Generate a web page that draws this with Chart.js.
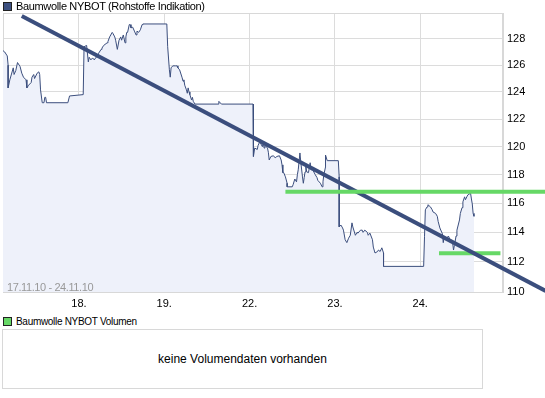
<!DOCTYPE html>
<html>
<head>
<meta charset="utf-8">
<script src="https://cdn.jsdelivr.net/npm/chart.js@4"></script>
<style>
  body { margin: 0; background: #fff; font-family: Arial, "Liberation Sans", sans-serif; }
  #wrap { position: relative; width: 545px; height: 398px; overflow: hidden; }
  #main { position: absolute; left: 0; top: 0; }
  .legend { position: absolute; left: 3px; font-size: 11px; line-height: 13px; color: #000; white-space: nowrap; }
  .legend i { display: inline-block; width: 7px; height: 7px; border: 1px solid #222; margin-right: 4px; vertical-align: -1px; }
  #range { position: absolute; left: 7px; top: 281px; font-size: 11px; color: #999; letter-spacing: -0.4px; }
  #volbox { position: absolute; left: 2px; top: 329px; width: 479px; height: 58px; border: 1px solid #d8d8d8;
            display: flex; align-items: center; justify-content: center; font-size: 12px; color: #000; }
</style>
</head>
<body>
<div id="wrap">
  <canvas id="main" width="545" height="312"></canvas>
  <div class="legend" style="top:0px; letter-spacing:-0.35px"><i style="background:#3d5080"></i>Baumwolle NYBOT (Rohstoffe Indikation)</div>
  <div id="range">17.11.10 - 24.11.10</div>
  <div class="legend" style="top:315px; font-size:10px; letter-spacing:-0.3px"><i style="background:#66d866"></i>Baumwolle NYBOT Volumen</div>
  <div id="volbox">keine Volumendaten vorhanden</div>
</div>
<script>
// x = trading days since start of 17.11. (1 = 18., 2 = 19., 3 = 22., 4 = 23., 5 = 24.)
const dayTicks = [1, 2, 3, 4, 5];
const dayLabels = ["18.", "19.", "22.", "23.", "24."];
const priceTicks = [110, 112, 114, 116, 118, 120, 122, 124, 126, 128];

const priceX = [
  0.11, 0.13, 0.16, 0.17, 0.17, 0.19, 0.23, 0.24, 0.26, 0.28, 0.31, 0.33, 0.35, 0.38, 0.39, 0.41, 0.44, 0.45, 0.47, 0.48,
  0.51, 0.53, 0.54, 0.55, 0.57, 0.59, 0.60, 0.61, 0.62, 0.87, 0.89, 1.05, 1.06, 1.09, 1.11, 1.12, 1.14, 1.16, 1.18, 1.20,
  1.22, 1.23, 1.26, 1.27, 1.29, 1.33, 1.34, 1.36, 1.39, 1.40, 1.42, 1.43, 1.45, 1.47, 1.49, 1.50, 1.52, 1.54, 1.55, 1.56,
  1.57, 1.59, 1.60, 1.61, 1.63, 1.65, 1.67, 1.68, 1.70, 1.72, 1.74, 1.75, 2.03, 2.04, 2.06, 2.07, 2.08, 2.10, 2.13, 2.15,
  2.16, 2.18, 2.21, 2.22, 2.23, 2.24, 2.26, 2.27, 2.28, 2.29, 2.30, 2.32, 2.33, 2.34, 2.36, 2.63, 2.64, 2.67, 3.04, 3.04,
  3.05, 3.06, 3.09, 3.10, 3.12, 3.15, 3.16, 3.17, 3.18, 3.21, 3.22, 3.23, 3.25, 3.28, 3.30, 3.32, 3.35, 3.37, 3.38, 3.39,
  3.40, 3.42, 3.44, 3.44, 3.50, 3.51, 3.53, 3.55, 3.56, 3.57, 3.59, 3.60, 3.62, 3.63, 3.64, 3.65, 3.66, 3.67, 3.69, 3.71,
  3.72, 3.73, 3.74, 3.77, 3.79, 3.80, 3.83, 3.85, 3.86, 3.87, 3.89, 3.89, 3.91, 4.04, 4.05, 4.05, 4.07, 4.09, 4.10, 4.12,
  4.14, 4.16, 4.18, 4.20, 4.21, 4.24, 4.26, 4.27, 4.30, 4.32, 4.33, 4.35, 4.38, 4.39, 4.41, 4.44, 4.45, 4.47, 4.50, 4.51,
  4.53, 4.55, 4.57, 4.57, 5.04, 5.05, 5.06, 5.08, 5.09, 5.12, 5.14, 5.15, 5.18, 5.20, 5.21, 5.23, 5.26, 5.27, 5.28, 5.31,
  5.33, 5.35, 5.38, 5.39, 5.40, 5.42, 5.43, 5.46, 5.47, 5.49, 5.50, 5.52, 5.53, 5.55, 5.56, 5.59, 5.60, 5.61, 5.62, 5.63
];
const priceY = [
  127.1, 127.0, 126.7, 126.0, 124.3, 124.9, 125.8, 125.3, 125.6, 126.2, 125.9, 125.4, 125.1, 124.9, 124.3, 124.5, 124.7, 125.1, 125.3, 125.0,
  125.4, 125.5, 125.3, 124.15, 123.2, 123.2, 123.6, 123.6, 123.2, 123.2, 123.7, 123.8, 127.4, 127.5, 126.25, 126.6, 126.4, 126.55, 126.4, 126.6,
  126.7, 126.9, 127.2, 127.3, 127.5, 127.7, 127.8, 128.15, 128.5, 128.4, 128.15, 127.9, 127.2, 127.9, 128.15, 127.9, 128.3, 127.7, 128.15, 128.5,
  128.5, 129.1, 129.1, 128.85, 128.9, 128.6, 128.3, 128.6, 128.5, 128.7, 129.1, 129.15, 129.15, 127.4, 125.65, 125.1, 125.8, 125.95, 125.95, 125.95,
  125.8, 125.65, 125.05, 124.8, 124.9, 124.5, 124.15, 123.9, 124.3, 124.0, 123.8, 123.4, 123.6, 123.3, 123.1, 123.1, 123.3, 123.1, 123.1, 121.2,
  119.3, 119.9, 119.8, 120.1, 120.35, 120.0, 120.3, 119.9, 120.1, 119.9, 119.6, 119.05, 119.3, 119.35, 119.2, 119.3, 119.35, 119.05, 118.7, 118.15,
  118.15, 117.85, 117.4, 117.15, 117.15, 117.3, 117.7, 117.5, 118.0, 118.35, 119.55, 118.9, 117.85, 117.4, 117.8, 118.2, 118.55, 118.2, 118.15, 118.85,
  118.35, 118.55, 118.35, 118.0, 117.8, 117.6, 117.4, 117.15, 117.5, 118.0, 118.55, 119.4, 119.0, 119.0, 117.85, 114.37, 114.5, 114.3, 114.15, 113.5,
  113.3, 113.6, 113.8, 114.65, 114.37, 113.8, 114.0, 113.95, 114.15, 114.15, 114.0, 114.15, 114.0, 113.8, 113.95, 113.5, 113.0, 112.6, 112.7, 112.8,
  112.7, 112.95, 112.6, 111.7, 111.7, 113.7, 115.55, 115.75, 115.9, 115.75, 115.55, 115.4, 115.3, 115.1, 114.75, 114.3, 113.9, 113.3, 113.7, 113.6,
  113.75, 113.5, 113.3, 112.8, 113.1, 113.75, 114.15, 114.85, 115.3, 115.7, 116.1, 116.45, 116.25, 116.5, 116.6, 116.7, 116.3, 115.95, 115.3, 115.1
];

// hand-drawn analysis lines
const trendX = [0.33, 6.47];
const trendY = [129.77, 110.07];
const resistX = [3.42, 6.47];
const resistY = [116.81, 116.81];
const supportX = [5.22, 5.94];
const supportY = [112.58, 112.58];

const pts = (xs, ys) => xs.map((x, i) => ({ x: x, y: ys[i] }));

const frame = {
  id: "frame",
  beforeDatasetsDraw(chart) {
    const a = chart.chartArea;
    const ctx = chart.ctx;
    ctx.save();
    ctx.strokeStyle = "#d8d8d8";
    ctx.lineWidth = 1;
    ctx.strokeRect(a.left + 0.5, a.top + 0.5, a.right - a.left - 1, a.bottom - a.top);
    ctx.restore();
  },
};

new Chart(document.getElementById("main"), {
  type: "line",
  data: {
    datasets: [
      {
        data: pts(priceX, priceY),
        borderColor: "#3b4e7d",
        borderWidth: 1,
        backgroundColor: "#eef1fa",
        fill: "start",
        pointRadius: 0,
        tension: 0,
        order: 4,
      },
      {
        data: pts(supportX, supportY),
        borderColor: "#66d866",
        borderWidth: 4,
        pointRadius: 0,
        clip: false,
        order: 3,
      },
      {
        data: pts(trendX, trendY),
        borderColor: "#3b4e7d",
        borderWidth: 4,
        pointRadius: 0,
        clip: false,
        order: 2,
      },
      {
        data: pts(resistX, resistY),
        borderColor: "#66d866",
        borderWidth: 4,
        pointRadius: 0,
        clip: false,
        order: 1,
      },
    ],
  },
  options: {
    responsive: false,
    animation: false,
    layout: { padding: { left: 3, top: 13, right: 0, bottom: 0 } },
    plugins: { legend: { display: false }, tooltip: { enabled: false } },
    scales: {
      x: {
        type: "linear",
        min: 0.11,
        max: 5.97,
        afterBuildTicks: (s) => { s.ticks = dayTicks.map((v) => ({ value: v })); },
        afterFit: (s) => { s.height = 20; },
        grid: { color: "#dcdcdc", drawTicks: false },
        border: { color: "#d8d8d8" },
        ticks: {
          padding: 5,
          color: "#000",
          font: { family: "Arial, 'Liberation Sans', sans-serif", size: 11 },
          callback: (v) => dayLabels[dayTicks.indexOf(v)] || "",
          maxRotation: 0,
        },
      },
      y: {
        type: "logarithmic",
        position: "right",
        min: 110,
        max: 130,
        afterBuildTicks: (s) => { s.ticks = priceTicks.map((v) => ({ value: v })); },
        afterFit: (s) => { s.width = 42; },
        grid: { color: "#dcdcdc", drawTicks: false },
        border: { color: "#d8d8d8" },
        ticks: {
          padding: 4,
          color: "#000",
          font: { family: "Arial, 'Liberation Sans', sans-serif", size: 11 },
          callback: (v) => String(v),
        },
      },
    },
  },
  plugins: [frame],
});
</script>
</body>
</html>
